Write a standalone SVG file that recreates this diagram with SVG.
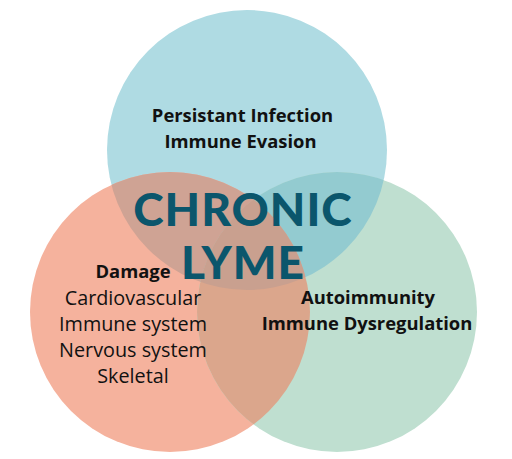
<svg xmlns="http://www.w3.org/2000/svg" width="512" height="459" viewBox="0 0 512 459">
<style>
.lbl{font-family:"Open Sans","Liberation Sans",sans-serif;fill:#111;text-anchor:middle;font-size:19.8px}
.b{font-weight:700;font-size:18.4px}
.title{font-family:"Lato","DejaVu Sans",sans-serif;font-weight:900;fill:#0b566c;text-anchor:middle;font-size:46px}
</style>
<defs>
<clipPath id="cA"><circle cx="247" cy="150" r="140"/></clipPath>
<clipPath id="cB"><circle cx="170" cy="312" r="140"/></clipPath>
<clipPath id="cC"><circle cx="337" cy="312" r="140"/></clipPath>
</defs>
<rect width="512" height="459" fill="#ffffff"/>
<g id="circle-infection"><circle cx="247" cy="150" r="140" fill="#afdbe3"/></g>
<g id="circle-damage"><circle cx="170" cy="312" r="140" fill="#f5b29d"/></g>
<g id="circle-autoimmunity"><circle cx="337" cy="312" r="140" fill="#bfdfd0"/></g>
<g id="overlaps">
<g clip-path="url(#cA)"><circle cx="170" cy="312" r="140" fill="#cfa394"/></g>
<g clip-path="url(#cA)"><circle cx="337" cy="312" r="140" fill="#93cbd0"/></g>
<g clip-path="url(#cB)"><circle cx="337" cy="312" r="140" fill="#dba68c"/></g>
<g clip-path="url(#cA)"><g clip-path="url(#cB)"><circle cx="337" cy="312" r="140" fill="#c9a08f"/></g></g>
</g>
<g id="texts">
<text class="lbl b" x="242.5" y="122">Persistant Infection</text>
<text class="lbl b" x="240.5" y="148">Immune Evasion</text>
<text class="title" x="243" y="226" letter-spacing="1">CHRONIC</text>
<text class="title" x="243" y="279" letter-spacing="1">LYME</text>
<text class="lbl b" x="133" y="278">Damage</text>
<text class="lbl" x="133" y="305">Cardiovascular</text>
<text class="lbl" x="133" y="331">Immune system</text>
<text class="lbl" x="133" y="357">Nervous system</text>
<text class="lbl" x="133" y="383">Skeletal</text>
<text class="lbl b" x="368" y="304">Autoimmunity</text>
<text class="lbl b" x="367" y="330">Immune Dysregulation</text>
</g>
</svg>
